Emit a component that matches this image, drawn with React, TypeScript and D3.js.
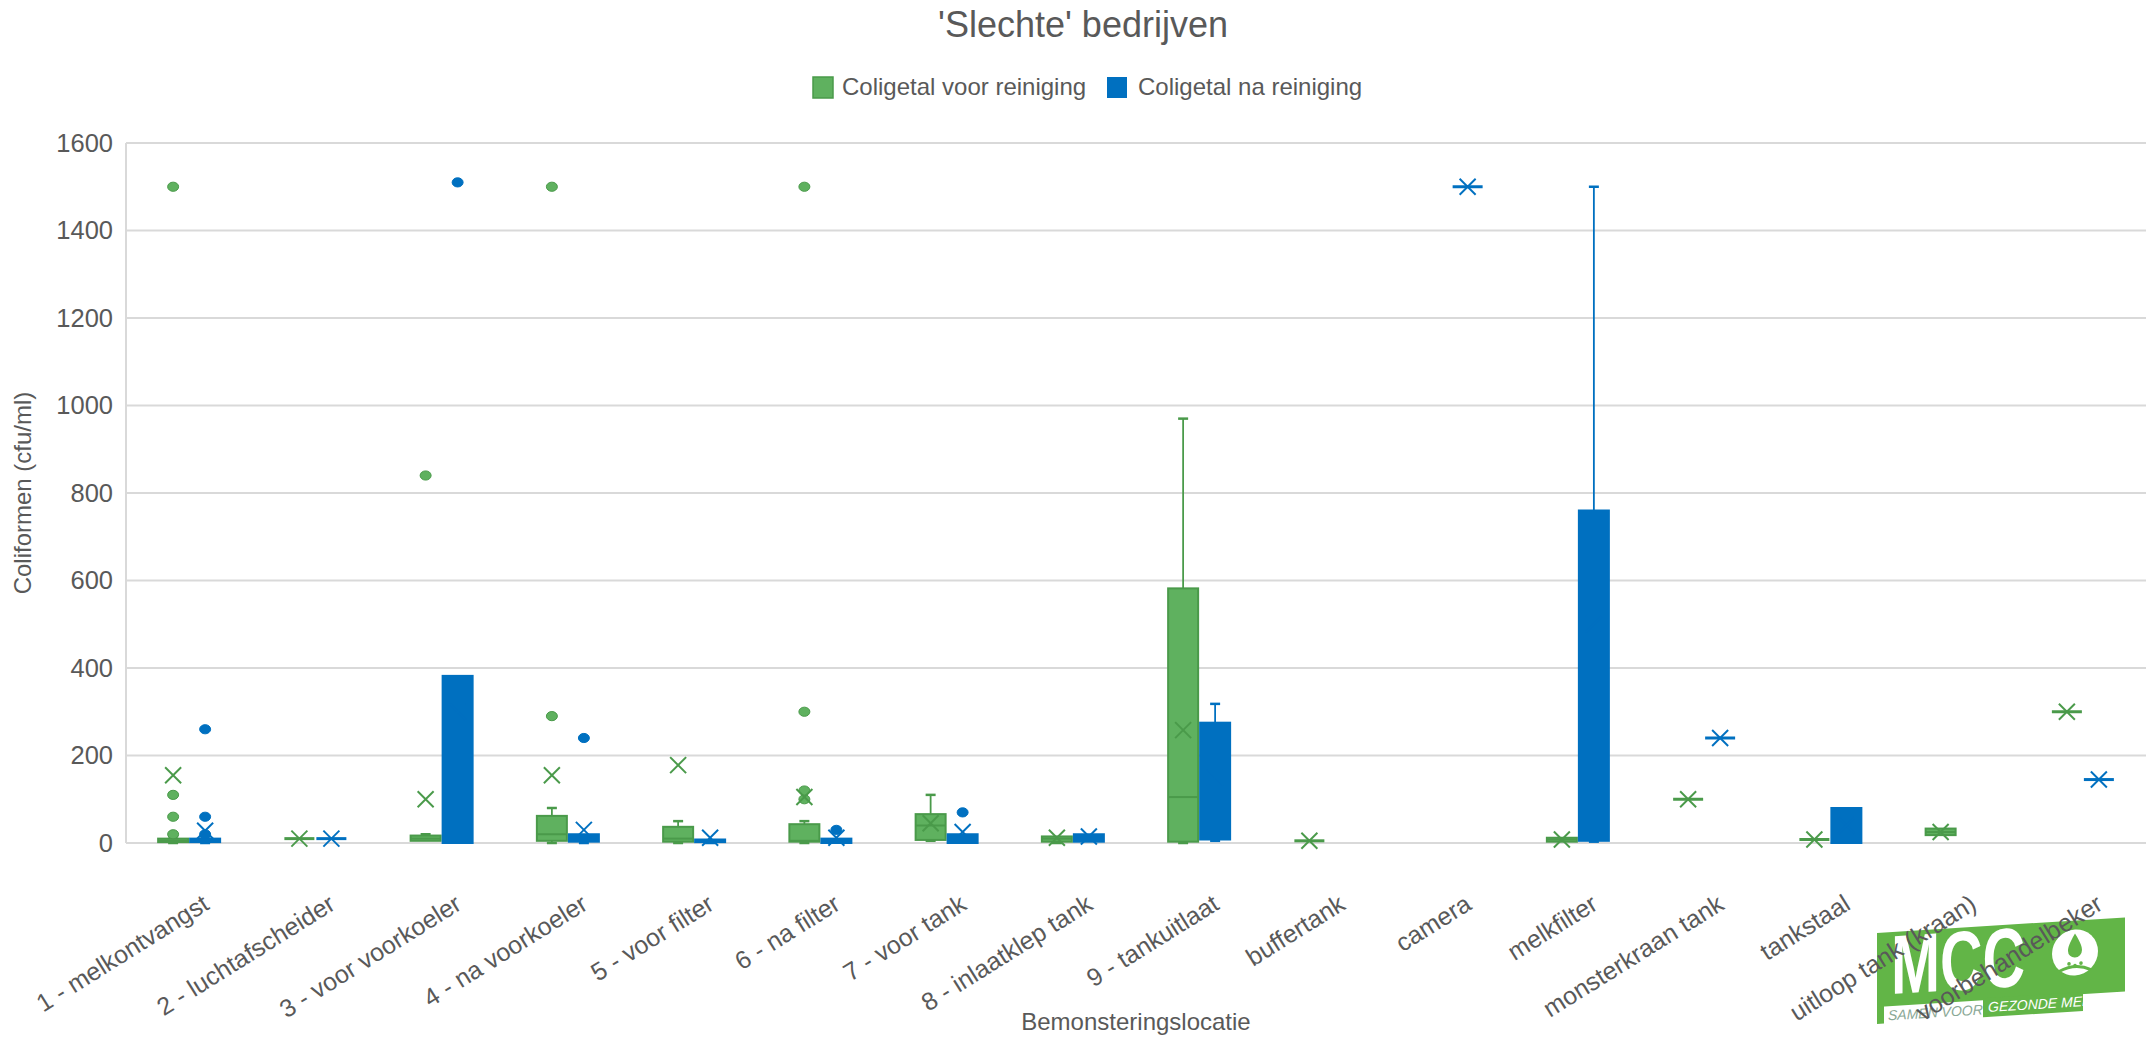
import React from 'react';
import * as d3 from 'd3';

const categories = [
  '1 - melkontvangst', '2 - luchtafscheider', '3 - voor voorkoeler', '4 - na voorkoeler',
  '5 - voor filter', '6 - na filter', '7 - voor tank', '8 - inlaatklep tank', '9 - tankuitlaat',
  'buffertank', 'camera', 'melkfilter', 'monsterkraan tank', 'tankstaal',
  'uitloop tank (kraan)', 'voorbehandelbeker',
];

// Coligetal voor reiniging (groen)
const voorMin = [0, 10, 5, 0, 0, 0, 5, 0, 0, 5, null, 3, 100, 8, 18, 300];
const voorQ1 = [2, 10, 5, 5, 3, 3, 7, 3, 3, 5, null, 3, 100, 8, 18, 300];
const voorMedian = [5, 10, 10, 20, 10, 5, 40, 10, 105, 5, null, 8, 100, 8, 25, 300];
const voorQ3 = [10, 10, 17, 62, 37, 43, 66, 15, 582, 5, null, 12, 100, 8, 33, 300];
const voorMax = [15, 10, 20, 80, 50, 50, 110, 15, 970, 5, null, 12, 100, 8, 33, 300];
const voorMean = [155, 10, 100, 155, 178, 105, 45, 12, 258, 5, null, 8, 100, 8, 25, 300];
const voorOutliers = [[20, 60, 110, 1500], [], [840], [290, 1500], [], [100, 120, 300, 1500], [], [], [], [], [], [], [], [], [], []];

// Coligetal na reiniging (blauw)
const naMin = [0, 10, 0, 0, 0, 0, 0, 3, 5, null, 1500, 3, 240, 0, null, 145];
const naQ1 = [2, 10, 0, 3, 2, 0, 0, 3, 8, null, 1500, 5, 240, 0, null, 145];
const naMedian = [5, 10, 5, 10, 5, 5, 10, 10, 100, null, 1500, 300, 240, 40, null, 145];
const naQ3 = [10, 10, 382, 20, 8, 10, 20, 20, 275, null, 1500, 760, 240, 80, null, 145];
const naMax = [15, 10, 382, 20, 8, 10, 20, 20, 318, null, 1500, 1500, 240, 80, null, 145];
const naMean = [28, 10, 300, 30, 12, 12, 25, 15, 150, null, 1500, 500, 240, 40, null, 145];
const naOutliers = [[20, 60, 260], [], [1510], [240], [], [30], [70], [], [], [], [], [], [], [], [], []];

const yTicks = [0, 200, 400, 600, 800, 1000, 1200, 1400, 1600];

const FONT = '"Liberation Sans", Arial, sans-serif';
const TEXT = '#595959';
const GREEN = '#5FB15F';
const GREEN_DARK = '#4A9A4A';
const BLUE = '#0070C0';
const LOGO = '#62B547';

const W = 2154;
const H = 1040;
const margin = { top: 143, right: 8, bottom: 197, left: 126 };

type Series = {
  min: (number | null)[];
  q1: (number | null)[];
  median: (number | null)[];
  q3: (number | null)[];
  max: (number | null)[];
  mean: (number | null)[];
  outliers: number[][];
  fill: string;
  stroke: string;
  offset: number; // -1 left, +1 right
};

const series: Series[] = [
  { min: voorMin, q1: voorQ1, median: voorMedian, q3: voorQ3, max: voorMax, mean: voorMean, outliers: voorOutliers, fill: GREEN, stroke: GREEN_DARK, offset: -1 },
  { min: naMin, q1: naQ1, median: naMedian, q3: naQ3, max: naMax, mean: naMean, outliers: naOutliers, fill: BLUE, stroke: BLUE, offset: 1 },
];

export default function App() {
  const x = d3.scaleBand<string>()
    .domain(categories)
    .range([margin.left, W - margin.right]);
  const y = d3.scaleLinear()
    .domain([0, 1600])
    .range([H - margin.bottom, margin.top]);

  const boxW = 30;
  const gap = 1;

  const boxes = series.map((s, si) =>
    categories.map((c, i) => {
      const q1 = s.q1[i];
      const q3 = s.q3[i];
      if (q1 == null || q3 == null) return null;
      const cx = (x(c) ?? 0) + x.bandwidth() / 2;
      const x0 = s.offset < 0 ? cx - gap - boxW : cx + gap;
      const mid = x0 + boxW / 2;
      const mn = s.min[i] ?? q1;
      const mx = s.max[i] ?? q3;
      const med = s.median[i];
      const mean = s.mean[i];
      const top = y(q3);
      const bot = y(q1);
      const cap = 5;
      const xs = 8;
      return (
        <g key={`${si}-${i}`}>
          {mx > q3 && (
            <g stroke={s.stroke} strokeWidth={1.8}>
              <line x1={mid} x2={mid} y1={top} y2={y(mx)} />
              <line x1={mid - cap} x2={mid + cap} y1={y(mx)} y2={y(mx)} strokeWidth={2.5} />
            </g>
          )}
          {mn < q1 && (
            <g stroke={s.stroke} strokeWidth={1.8}>
              <line x1={mid} x2={mid} y1={bot} y2={y(mn)} />
              <line x1={mid - cap} x2={mid + cap} y1={y(mn)} y2={y(mn)} strokeWidth={2.5} />
            </g>
          )}
          {q3 > q1 ? (
            <rect x={x0} y={top} width={boxW} height={Math.max(bot - top, 1)}
              fill={s.fill} stroke={s.stroke} strokeWidth={2} />
          ) : (
            <line x1={x0} x2={x0 + boxW} y1={top} y2={top} stroke={s.stroke} strokeWidth={3} />
          )}
          {med != null && q3 > q1 && (
            <line x1={x0} x2={x0 + boxW} y1={y(med)} y2={y(med)} stroke={s.stroke} strokeWidth={2} />
          )}
          {s.outliers[i].map((o, k) => (
            <ellipse key={k} cx={mid} cy={y(o)} rx={5.5} ry={4.6} fill={s.fill} stroke={s.stroke} strokeWidth={1} />
          ))}
          {mean != null && (
            <g stroke={s.stroke} strokeWidth={2}>
              <line x1={mid - xs} x2={mid + xs} y1={y(mean) - xs} y2={y(mean) + xs} />
              <line x1={mid - xs} x2={mid + xs} y1={y(mean) + xs} y2={y(mean) - xs} />
            </g>
          )}
        </g>
      );
    })
  );

  const [r0, r1] = x.range();

  return (
    <svg width={W} height={H} style={{ position: 'absolute', left: 0, top: 0, background: '#fff' }}
      fontFamily={FONT}>
      <rect x={0} y={0} width={W} height={H} fill="#fff" />
      <text x={1083} y={37} textAnchor="middle" fontSize={36} fill={TEXT}>'Slechte' bedrijven</text>

      {/* legend */}
      <rect x={813} y={77} width={20} height={21} fill={GREEN} stroke={GREEN_DARK} strokeWidth={1.5} />
      <text x={842} y={95} fontSize={24} fill={TEXT}>Coligetal voor reiniging</text>
      <rect x={1107} y={77} width={20} height={21} fill={BLUE} />
      <text x={1138} y={95} fontSize={24} fill={TEXT}>Coligetal na reiniging</text>

      {/* gridlines */}
      {yTicks.map(t => (
        <line key={t} x1={r0} x2={r1} y1={y(t)} y2={y(t)} stroke="#D9D9D9" strokeWidth={2} />
      ))}
      <line x1={r0} x2={r0} y1={y(1600)} y2={y(0)} stroke="#D9D9D9" strokeWidth={2} />
      {yTicks.map(t => (
        <text key={t} x={r0 - 13} y={y(t)} dy="0.35em" textAnchor="end" fontSize={25.5} fill={TEXT}>{t}</text>
      ))}

      {boxes}

      {/* MCC logo */}
      <g transform="translate(1877,933) skewY(-3.6)">
        <rect x={0} y={0} width={248} height={74} fill={LOGO} />
        <rect x={106} y={72} width={100} height={19} fill={LOGO} />
        <rect x={0} y={72} width={7} height={19} fill={LOGO} />
        <g transform="translate(14,62) scale(0.95,1.35)">
          <text x={0} y={0} fontSize={62} fontWeight="bold" fill="#fff" fontFamily={FONT}>MCC</text>
        </g>
        <circle cx={198} cy={32} r={23} fill="#fff" />
        <path d="M198 13 C192 23 191 27 191 30 a7 7 0 0 0 14 0 C205 27 204 23 198 13 Z" fill={LOGO} />
        <path d="M182 50 q16 -8 32 0" stroke={LOGO} strokeWidth={3} fill="none" />
        <circle cx={192} cy={43} r={1.8} fill={LOGO} />
        <circle cx={198} cy={45} r={1.8} fill={LOGO} />
        <circle cx={204} cy={43} r={1.8} fill={LOGO} />
        <text x={11} y={88} fontSize={14} fontStyle="italic" fill="#8AA896">SAMEN VOOR</text>
        <text x={111} y={86} fontSize={14} fontStyle="italic" fill="#fff">GEZONDE MELK</text>
      </g>

      {/* category labels */}
      {categories.map(c => {
        const cx = (x(c) ?? 0) + x.bandwidth() / 2;
        return (
          <text key={c} transform={`translate(${cx + 12},${893}) rotate(-32)`} textAnchor="end"
            dy="0.72em" fontSize={25} fill={TEXT}>{c}</text>
        );
      })}

      <text transform={`translate(31,${(y(0) + y(1600)) / 2}) rotate(-90)`} textAnchor="middle"
        fontSize={24} fill={TEXT}>Coliformen (cfu/ml)</text>
      <text x={(r0 + r1) / 2} y={1030} textAnchor="middle" fontSize={24} fill={TEXT}>Bemonsteringslocatie</text>
    </svg>
  );
}
